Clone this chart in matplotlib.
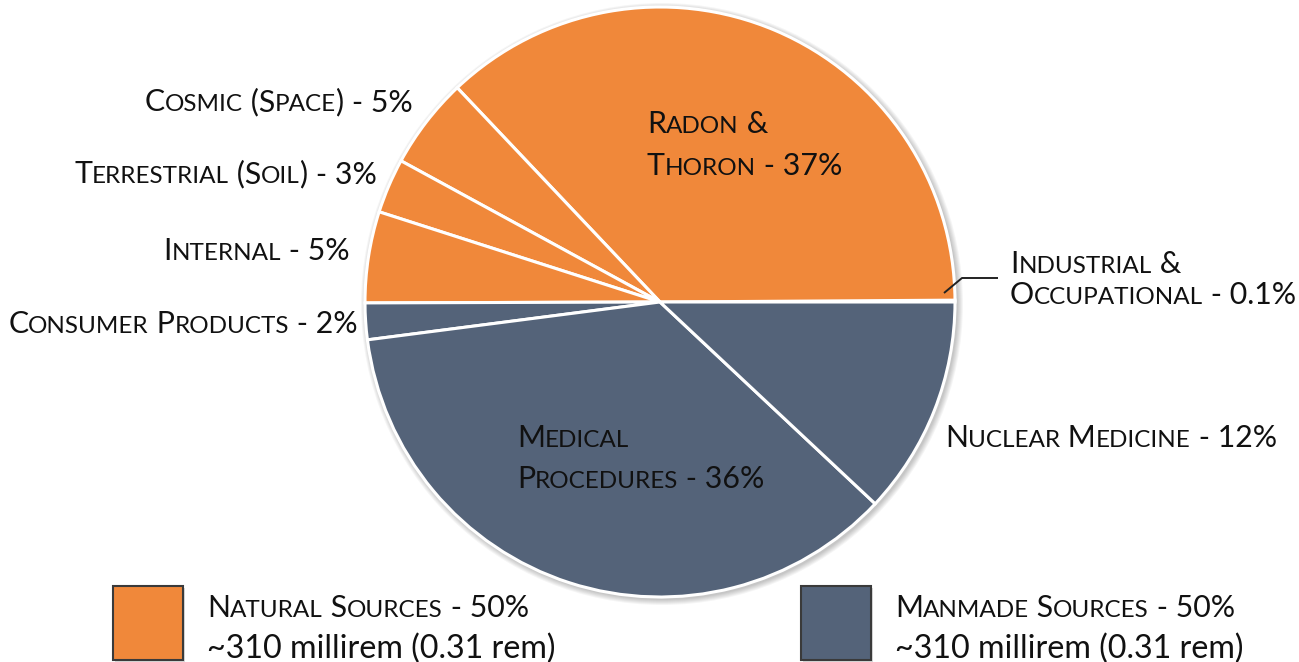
import matplotlib
matplotlib.use("Agg")
import matplotlib.pyplot as plt
from matplotlib.patches import Rectangle, Circle
from matplotlib.font_manager import FontProperties

# ---------------- data ----------------
sources = ["Industrial & Occupational", "Radon & Thoron", "Cosmic (Space)",
           "Terrestrial (Soil)", "Internal", "Consumer Products",
           "Medical Procedures", "Nuclear Medicine"]
shares = [0.1, 37, 5, 3, 5, 2, 36, 12]
groups = ["Manmade", "Natural", "Natural", "Natural", "Natural",
          "Manmade", "Manmade", "Manmade"]
label_lines = [["Industrial &", "Occupational - 0.1%"],
               ["Radon &", "Thoron - 37%"],
               ["Cosmic (Space) - 5%"],
               ["Terrestrial (Soil) - 3%"],
               ["Internal - 5%"],
               ["Consumer Products - 2%"],
               ["Medical", "Procedures - 36%"],
               ["Nuclear Medicine - 12%"]]
legend_groups = ["Natural", "Manmade"]
legend_title = ["Natural Sources - 50%", "Manmade Sources - 50%"]
legend_sub = ["~310 millirem (0.31 rem)", "~310 millirem (0.31 rem)"]

# ---------------- style ----------------
W, H = 1299, 662
COL = {"Natural": "#F0883A", "Manmade": "#546379"}
TXT = "#111111"
FONT = "Lato"
SIZE = 21.8          # pt at dpi 100
SUB_SIZE = 23.2
SC_RATIO = 0.80

fig = plt.figure(figsize=(W / 100, H / 100), dpi=100)
ax = fig.add_axes([0, 0, 1, 1])
renderer = fig.canvas.get_renderer()

def py(y):  # pixel-from-top to data
    return H - y

CX, CY, R = 660, py(302), 295

# shadow behind pie
for k in range(1, 7):
    ax.add_patch(Circle((CX + 2, CY - 2), R + k, color="#000000",
                        alpha=0.04, lw=0, zorder=0))

wedges, _ = ax.pie(shares, colors=[COL[g] for g in groups], startangle=0,
                   counterclock=True, center=(CX, CY), radius=R,
                   wedgeprops=dict(edgecolor="white", linewidth=2.2),
                   frame=True)
for w in wedges:
    w.set_zorder(2)

ax.set_xlim(0, W)
ax.set_ylim(0, H)
ax.set_aspect("auto")
ax.axis("off")


def tw(s, fp):
    w1, _, _ = renderer.get_text_width_height_descent(s + "|", fp, ismath=False)
    w2, _, _ = renderer.get_text_width_height_descent("|", fp, ismath=False)
    return w1 - w2


def runs_of(text):
    runs = []
    for ch in text:
        small = ch.islower()
        c = ch.upper() if small else ch
        if runs and runs[-1][1] == small:
            runs[-1][0] += c
        else:
            runs.append([c, small])
    return runs


def smallcaps(x, ybase, text, ha="left", size=SIZE, color=TXT):
    big = FontProperties(family=FONT, size=size)
    sml = FontProperties(family=FONT, size=size * SC_RATIO)
    runs = runs_of(text)
    widths = [tw(s, sml if small else big) for s, small in runs]
    total = sum(widths)
    x0 = x - total if ha == "right" else x
    for (s, small), w in zip(runs, widths):
        ax.text(x0, py(ybase), s, fontproperties=sml if small else big,
                color=color, ha="left", va="baseline", zorder=5)
        x0 += w


# label placement: (anchor x, first baseline, line gap, align)
placements = {
    "Industrial & Occupational": (1010, 273, 31, "left"),
    "Radon & Thoron": (647, 133, 42, "left"),
    "Cosmic (Space)": (413, 111, 0, "right"),
    "Terrestrial (Soil)": (377, 183, 0, "right"),
    "Internal": (350, 260, 0, "right"),
    "Consumer Products": (358, 333, 0, "right"),
    "Medical Procedures": (517, 447, 41, "left"),
    "Nuclear Medicine": (945, 447, 0, "left"),
}
for name, lines in zip(sources, label_lines):
    x, yb, gap, ha = placements[name]
    for i, ln in enumerate(lines):
        smallcaps(x, yb + i * gap, ln, ha=ha)

# leader line for the tiny slice
ax.plot([944, 962, 998], [py(293), py(278), py(278)], color="#222222",
        lw=1.4, zorder=6, solid_capstyle="butt")

# legend
box_x = [113, 801]
text_x = [207, 895]
for g, bx, tx, t1, t2 in zip(legend_groups, box_x, text_x, legend_title, legend_sub):
    ax.add_patch(Rectangle((bx + 2, py(660) - 2), 70, 74, color="#000000",
                           alpha=0.15, lw=0, zorder=3))
    ax.add_patch(Rectangle((bx, py(660)), 70, 74, facecolor=COL[g],
                           edgecolor="#3a3a3a", lw=1.5, zorder=4))
    smallcaps(tx, 617, t1)
    ax.text(tx, py(658), t2, fontproperties=FontProperties(family=FONT, size=SUB_SIZE),
            color=TXT, ha="left", va="baseline", zorder=5)

fig.savefig("out.png", dpi=100)
